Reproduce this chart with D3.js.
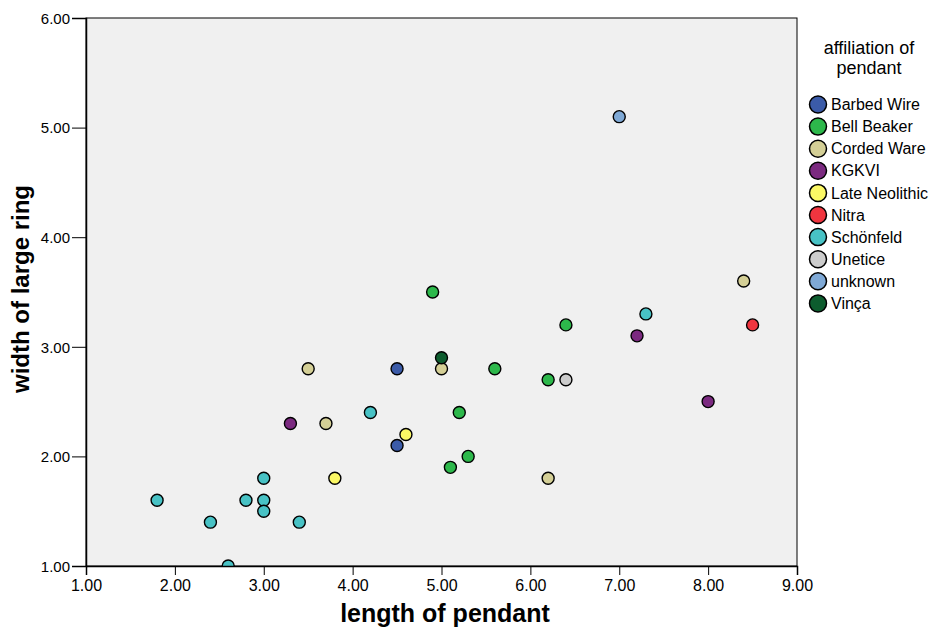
<!DOCTYPE html>
<html>
<head>
<meta charset="utf-8">
<script src="https://cdn.jsdelivr.net/npm/d3@7"></script>
<style>
  body { margin: 0; background: #fff; }
  svg text { font-family: "Liberation Sans", Arial, sans-serif; }
</style>
</head>
<body>
<svg id="chart" width="933" height="629"></svg>
<script>
// groups shown in the legend, in order
const groups = ["Barbed Wire", "Bell Beaker", "Corded Ware", "KGKVI", "Late Neolithic",
  "Nitra", "Schönfeld", "Unetice", "unknown", "Vinça"];
const groupColors = ["#3b5ba8", "#2db84b", "#d4cf96", "#7b2a80", "#fbf865",
  "#f0353f", "#48c2c5", "#cccccc", "#7fa9d6", "#0d5c2e"];

// length of pendant / width of large ring, per group
const pointGroup = [
  "Schönfeld", "Schönfeld", "Schönfeld", "Schönfeld", "Schönfeld",
  "Schönfeld", "Schönfeld", "Schönfeld", "Schönfeld", "Schönfeld",
  "KGKVI", "KGKVI", "KGKVI",
  "Corded Ware", "Corded Ware", "Corded Ware", "Corded Ware", "Corded Ware",
  "Barbed Wire", "Barbed Wire",
  "Late Neolithic", "Late Neolithic",
  "Bell Beaker", "Bell Beaker", "Bell Beaker", "Bell Beaker", "Bell Beaker", "Bell Beaker", "Bell Beaker",
  "Vinça", "Unetice", "Nitra", "unknown"
];
const lengthVals = [
  1.8, 2.4, 2.6, 2.8, 3.0, 3.0, 3.0, 3.4, 4.2, 7.3,
  3.3, 7.2, 8.0,
  3.5, 3.7, 5.0, 6.2, 8.4,
  4.5, 4.5,
  3.8, 4.6,
  4.9, 5.6, 5.2, 5.3, 5.1, 6.2, 6.4,
  5.0, 6.4, 8.5, 7.0
];
const widthVals = [
  1.6, 1.4, 1.0, 1.6, 1.8, 1.6, 1.5, 1.4, 2.4, 3.3,
  2.3, 3.1, 2.5,
  2.8, 2.3, 2.8, 1.8, 3.6,
  2.8, 2.1,
  1.8, 2.2,
  3.5, 2.8, 2.4, 2.0, 1.9, 2.7, 3.2,
  2.9, 2.7, 3.2, 5.1
];
const xTicks = [1, 2, 3, 4, 5, 6, 7, 8, 9];
const yTicks = [1, 2, 3, 4, 5, 6];

const svg = d3.select("#chart");
const pLeft = 86, pRight = 797, pTop = 18, pBottom = 566;

const x = d3.scaleLinear().domain([1, 9]).range([pLeft, pRight]);
const y = d3.scaleLinear().domain([1, 6]).range([pBottom, pTop]);
const color = d3.scaleOrdinal().domain(groups).range(groupColors);

// plot background
svg.append("rect")
  .attr("x", pLeft).attr("y", pTop)
  .attr("width", pRight - pLeft).attr("height", pBottom - pTop)
  .attr("fill", "#f0f0f0")
  .attr("stroke", "#000").attr("stroke-width", 1);

svg.append("clipPath").attr("id", "plotclip")
  .append("rect")
  .attr("x", pLeft).attr("y", pTop)
  .attr("width", pRight - pLeft).attr("height", pBottom - pTop);

// points
let pts = d3.range(lengthVals.length).map(i => ({g: pointGroup[i], x: lengthVals[i], y: widthVals[i]}));
svg.append("g").attr("clip-path", "url(#plotclip)")
  .selectAll("circle")
  .data(pts)
  .enter()
  .append("circle")
  .attr("cx", d => x(d.x))
  .attr("cy", d => y(d.y))
  .attr("r", 6)
  .attr("fill", d => color(d.g))
  .attr("stroke", "#000")
  .attr("stroke-width", 1.4);

// axes
let fmt = d3.format(".2f");
let xAxis = svg.append("g")
  .attr("transform", "translate(0," + pBottom + ")")
  .call(d3.axisBottom(x).tickValues(xTicks).tickFormat(fmt).tickSize(9).tickPadding(2));
let yAxis = svg.append("g")
  .attr("transform", "translate(" + pLeft + ",0)")
  .call(d3.axisLeft(y).tickValues(yTicks).tickFormat(fmt).tickSize(14).tickPadding(2));

[xAxis, yAxis].forEach(a => {
  a.select(".domain").attr("stroke", "#000").attr("stroke-width", 1.5);
  a.selectAll(".tick line").attr("stroke", "#000");
  a.selectAll(".tick text").attr("fill", "#000");
});
xAxis.selectAll(".tick text").attr("dy", "0.85em").style("font-size", "16px");
yAxis.selectAll(".tick text").attr("dy", "0.35em").style("font-size", "15px");

// axis titles
svg.append("text")
  .attr("x", 445).attr("y", 622)
  .attr("text-anchor", "middle")
  .style("font-size", "25px").style("font-weight", "bold")
  .text("length of pendant");

svg.append("text")
  .attr("transform", "translate(29,289) rotate(-90)")
  .attr("text-anchor", "middle")
  .style("font-size", "24px").style("font-weight", "bold")
  .text("width of large ring");

// legend
let legend = svg.append("g");
legend.append("text")
  .attr("x", 869).attr("y", 54)
  .attr("text-anchor", "middle").style("font-size", "18px")
  .text("affiliation of");
legend.append("text")
  .attr("x", 869).attr("y", 74)
  .attr("text-anchor", "middle").style("font-size", "18px")
  .text("pendant");

let items = legend.selectAll("g.item")
  .data(groups)
  .enter()
  .append("g")
  .attr("class", "item")
  .attr("transform", (d, i) => "translate(818," + (104.5 + i * 22.1) + ")");
items.append("circle")
  .attr("r", 8.5)
  .attr("fill", d => color(d))
  .attr("stroke", "#000").attr("stroke-width", 1.5);
items.append("text")
  .attr("x", 13).attr("dy", "0.35em")
  .style("font-size", "16px")
  .text(d => d);
</script>
</body>
</html>
